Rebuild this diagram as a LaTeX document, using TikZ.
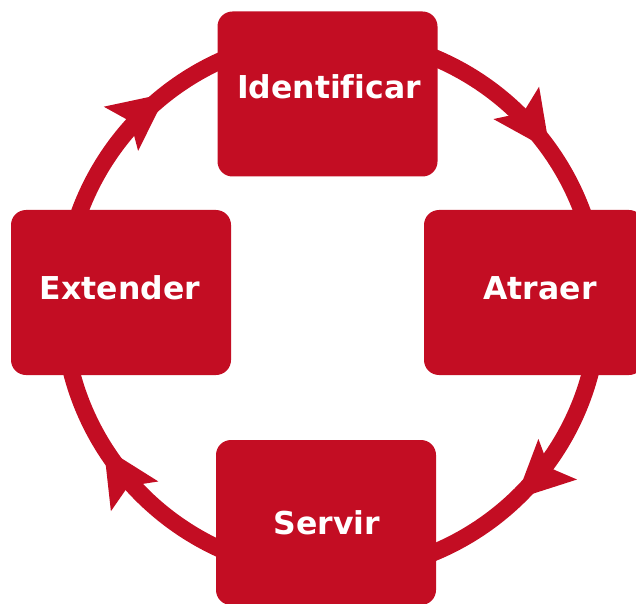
\documentclass[tikz,border=0pt]{standalone}
\usepackage{fontspec}
\setmainfont{DejaVu Sans}[Ligatures=NoCommon]
\usetikzlibrary{%
		arrows.meta%
		,decorations.markings%
	}
\definecolor{cyclered}{RGB}{195,13,35}

\begin{document}
\begin{tikzpicture}[x=1pt,y=1pt,
		stagebox/.style={fill=cyclered, rounded corners=15pt, minimum width=220pt, minimum height=165pt, inner sep=0pt},
		stagetext/.style={text=white, font=\fontsize{31.5}{36}\selectfont\bfseries},
		ring/.style={draw=cyclered, color=cyclered, line width=17pt},
		cyclehead/.tip={Stealth[length=58pt, width=56pt, inset=12pt, line width=0pt]}]
			\useasboundingbox (0,0) rectangle (636,603);
			
			% Ring
			\coordinate (hub) at (331,298);
			\draw[ring, postaction={decorate}, decoration={markings,
					mark=at position 0.152 with {\arrow{cyclehead}},
					mark=at position 0.379 with {\arrow{cyclehead}},
					mark=at position 0.661 with {\arrow{cyclehead}},
					mark=at position 0.895 with {\arrow{cyclehead}}}]
				(hub) ++(90:268) arc [start angle=90, delta angle=-360, radius=268];
			
			% Stages
			\node[stagebox] (ident) at (327.5,509) {};
			\node[stagebox] (attract) at (534,310.5) {};
			\node[stagebox] (serve) at (326,80.5) {};
			\node[stagebox] (extend) at (121,310.5) {};
			
			% Labels
			\node[stagetext] (identtext) at ([shift={(1.5,7.5)}]ident.center) {Identificar};
			\node[stagetext] (attracttext) at ([shift={(6,4.5)}]attract.center) {Atraer};
			\node[stagetext] (servetext) at ([shift={(1,0)}]serve.center) {Servir};
			\node[stagetext] (extendtext) at ([shift={(-1,4.5)}]extend.center) {Extender};
		\end{tikzpicture}
\end{document}
